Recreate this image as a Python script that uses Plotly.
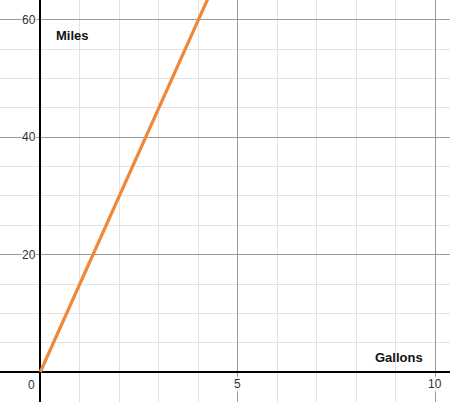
import plotly.graph_objects as go

# Data
gallons = [0, 5]
miles = [0, 75]

x_tick_vals = [5, 10]
x_tick_text = ["5", "10"]
y_tick_vals = [20, 40, 60]
y_tick_text = ["20", "40", "60"]

x_label = "Gallons"
y_label = "Miles"

fig = go.Figure()
fig.add_trace(go.Scatter(x=gallons, y=miles, mode="lines",
                         line=dict(color="#f0883a", width=3.2),
                         hoverinfo="skip", showlegend=False))

font_tick = dict(family="Arial, Liberation Sans, sans-serif", size=12, color="#333333")
annotations = []
for v, t in zip(x_tick_vals, x_tick_text):
    annotations.append(dict(x=v, y=0, text=t, showarrow=False, xanchor="center",
                            yanchor="top", yshift=-4, font=font_tick, bgcolor="rgba(255,255,255,0.8)", borderpad=0))
for v, t in zip(y_tick_vals, y_tick_text):
    annotations.append(dict(x=0, y=v, text=t, showarrow=False, xanchor="right",
                            yanchor="middle", xshift=-3, font=font_tick, bgcolor="rgba(255,255,255,0.8)", borderpad=0))
annotations.append(dict(x=0, y=0, text="0", showarrow=False, xanchor="right",
                        yanchor="top", xshift=-3, yshift=-4, font=font_tick))
annotations.append(dict(x=0.35, y=57.3, text="<b>" + y_label + "</b>", showarrow=False,
                        xanchor="left", yanchor="middle",
                        font=dict(family="Arial, Liberation Sans, sans-serif", size=13, color="#111111")))
annotations.append(dict(x=9.09, y=2.4, text="<b>" + x_label + "</b>", showarrow=False,
                        xanchor="center", yanchor="middle",
                        font=dict(family="Arial, Liberation Sans, sans-serif", size=13, color="#111111")))

fig.update_layout(
    width=450, height=402,
    margin=dict(l=0, r=0, t=0, b=0),
    plot_bgcolor="white", paper_bgcolor="white",
    annotations=annotations,
    xaxis=dict(range=[-1.02, 10.37], dtick=5, tick0=0, showticklabels=False,
               showgrid=True, gridcolor="#9a9a9a", gridwidth=1,
               zeroline=True, zerolinecolor="#000000", zerolinewidth=1.6,
               minor=dict(dtick=1, tick0=0, showgrid=True, gridcolor="#e2e2e2", gridwidth=1),
               fixedrange=True, automargin=False),
    yaxis=dict(range=[-5.11, 63.4], dtick=20, tick0=0, showticklabels=False,
               showgrid=True, gridcolor="#9a9a9a", gridwidth=1,
               zeroline=True, zerolinecolor="#000000", zerolinewidth=1.6,
               minor=dict(dtick=5, tick0=0, showgrid=True, gridcolor="#e2e2e2", gridwidth=1),
               fixedrange=True, automargin=False),
)

fig.write_html("out.html", config={"displayModeBar": False},
               post_script="document.body.style.margin='0';document.body.style.overflow='hidden';")
